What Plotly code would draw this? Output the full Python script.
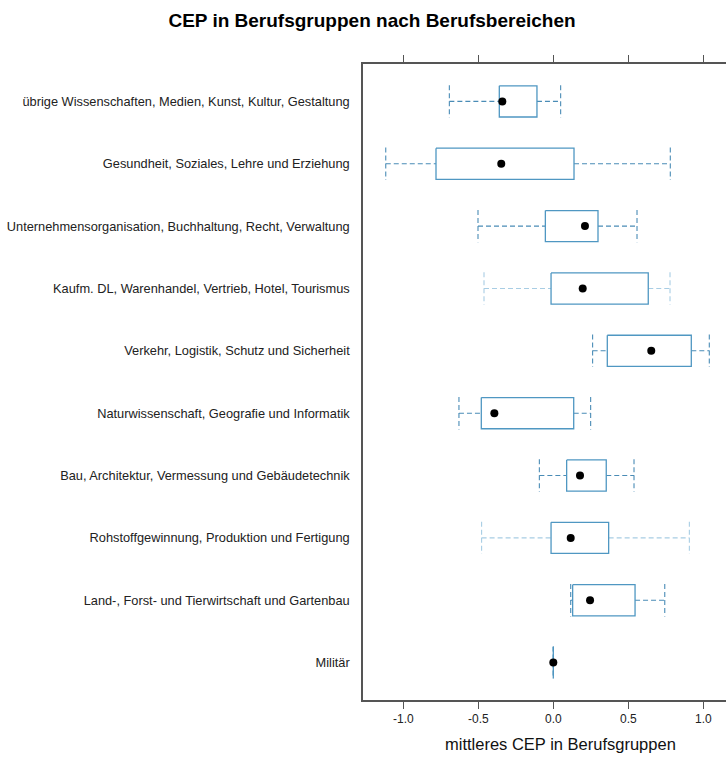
import plotly.graph_objects as go

# Berufsbereiche, top to bottom
categories = [
    "übrige Wissenschaften, Medien, Kunst, Kultur, Gestaltung",
    "Gesundheit, Soziales, Lehre und Erziehung",
    "Unternehmensorganisation, Buchhaltung, Recht, Verwaltung",
    "Kaufm. DL, Warenhandel, Vertrieb, Hotel, Tourismus",
    "Verkehr, Logistik, Schutz und Sicherheit",
    "Naturwissenschaft, Geografie und Informatik",
    "Bau, Architektur, Vermessung und Gebäudetechnik",
    "Rohstoffgewinnung, Produktion und Fertigung",
    "Land-, Forst- und Tierwirtschaft und Gartenbau",
    "Militär",
]

# five-number summaries of mean CEP per Berufsgruppe
lower_whisker = [-0.693, -1.117, -0.502, -0.462, 0.262, -0.629, -0.093, -0.478, 0.116, 0.0]
q1            = [-0.360, -0.782, -0.053, -0.015, 0.360, -0.480,  0.089, -0.015, 0.129, 0.0]
median        = [-0.340, -0.347,  0.211,  0.196, 0.653, -0.393,  0.178,  0.116, 0.245, 0.0]
q3            = [-0.109,  0.138,  0.298,  0.633, 0.920,  0.136,  0.353,  0.369, 0.545, 0.0]
upper_whisker = [ 0.049,  0.780,  0.558,  0.778, 1.040,  0.249,  0.538,  0.907, 0.743, 0.0]

x_ticks = [-1.0, -0.5, 0.0, 0.5, 1.0]
x_tick_labels = ["-1.0", "-0.5", "0.0", "0.5", "1.0"]

# styling
BOX_COL = "#4f97c2"
WHISKER_DARK = "#4a8cb6"
WHISKER_LIGHT = "#a8cde4"
light_rows = {3, 7}
FRAME = "#555555"
FONT = "Liberation Sans, Arial, sans-serif"
half_box = 0.25
half_cap = 0.26

pos = list(range(1, len(categories) + 1))

box_x, box_y = [], []
for p, a, b in zip(pos, q1, q3):
    box_x += [a, b, b, a, a, None]
    box_y += [p - half_box, p - half_box, p + half_box, p + half_box, p - half_box, None]

wd_x, wd_y, wl_x, wl_y = [], [], [], []
for i, (p, lo, a, b, hi) in enumerate(zip(pos, lower_whisker, q1, q3, upper_whisker)):
    xs = [lo, a, None, b, hi, None, lo, lo, None, hi, hi, None]
    ys = [p, p, None, p, p, None, p - half_cap, p + half_cap, None, p - half_cap, p + half_cap, None]
    if i in light_rows:
        wl_x += xs
        wl_y += ys
    else:
        wd_x += xs
        wd_y += ys

fig = go.Figure()
fig.add_trace(go.Scatter(x=wd_x, y=wd_y, mode="lines", hoverinfo="skip",
                         line=dict(color=WHISKER_DARK, width=1.1, dash="5px,3px")))
fig.add_trace(go.Scatter(x=wl_x, y=wl_y, mode="lines", hoverinfo="skip",
                         line=dict(color=WHISKER_LIGHT, width=1.1, dash="5px,3px")))
fig.add_trace(go.Scatter(x=box_x, y=box_y, mode="lines", hoverinfo="skip",
                         line=dict(color=BOX_COL, width=1.3)))
fig.add_trace(go.Scatter(x=median, y=pos, mode="markers",
                         marker=dict(color="black", size=8),
                         text=categories, hovertemplate="%{text}<br>Median: %{x:.2f}<extra></extra>"))

fig.update_layout(
    width=726, height=758,
    margin=dict(l=363, r=0, t=64, b=58),
    paper_bgcolor="white", plot_bgcolor="white",
    showlegend=False,
    font=dict(family=FONT, color="#111111"),
    title=dict(text="<b>CEP in Berufsgruppen nach Berufsbereichen</b>",
               x=372 / 726, xanchor="center", xref="container",
               y=1 - 20 / 758, yanchor="middle", yref="container",
               font=dict(size=19, family=FONT, color="black")),
    xaxis=dict(range=[-1.2687, 1.1513], tickvals=x_ticks, ticktext=x_tick_labels,
               showgrid=False, zeroline=False, showline=True, linecolor=FRAME, linewidth=1.5,
               mirror="ticks", ticks="outside", ticklen=7, tickwidth=1, tickcolor=FRAME,
               tickfont=dict(size=12, family=FONT, color="#222222")),
    yaxis=dict(range=[10.6, 0.4], tickvals=pos, ticktext=categories,
               showgrid=False, zeroline=False, showline=True, linecolor=FRAME, linewidth=1.5,
               mirror=False, ticks="", ticklabelstandoff=9,
               tickfont=dict(size=12.8, family=FONT, color="#222222")),
    annotations=[dict(text="mittleres CEP in Berufsgruppen", xref="paper", yref="paper",
                      x=(560 - 363) / 363, y=-44 / 636, xanchor="center", yanchor="middle",
                      showarrow=False, font=dict(size=16.5, family=FONT, color="#111111"))],
)

fig.write_html("out.html")
